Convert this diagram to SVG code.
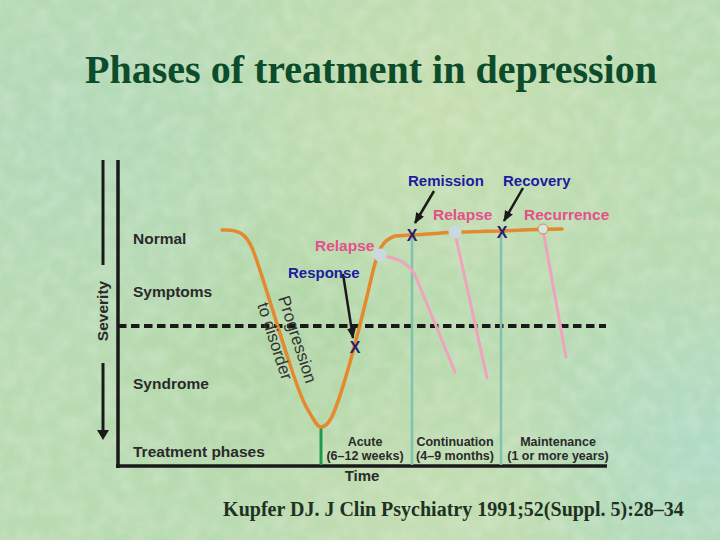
<svg xmlns="http://www.w3.org/2000/svg" width="720" height="540" viewBox="0 0 720 540">
<defs>
<radialGradient id="g1" cx="450" cy="110" r="240" gradientUnits="userSpaceOnUse"><stop offset="0" stop-color="#cfe0ae" stop-opacity="0.6"/><stop offset="1" stop-color="#cfe0ae" stop-opacity="0"/></radialGradient>
<radialGradient id="g2" cx="60" cy="140" r="240" gradientUnits="userSpaceOnUse"><stop offset="0" stop-color="#aed8c0" stop-opacity="0.55"/><stop offset="1" stop-color="#aed8c0" stop-opacity="0"/></radialGradient>
<radialGradient id="g3" cx="710" cy="450" r="200" gradientUnits="userSpaceOnUse"><stop offset="0" stop-color="#a8dad2" stop-opacity="0.6"/><stop offset="1" stop-color="#a8dad2" stop-opacity="0"/></radialGradient>
<radialGradient id="g4" cx="300" cy="360" r="200" gradientUnits="userSpaceOnUse"><stop offset="0" stop-color="#acd39e" stop-opacity="0.55"/><stop offset="1" stop-color="#acd39e" stop-opacity="0"/></radialGradient>
<radialGradient id="g5" cx="420" cy="520" r="200" gradientUnits="userSpaceOnUse"><stop offset="0" stop-color="#cde0b4" stop-opacity="0.6"/><stop offset="1" stop-color="#cde0b4" stop-opacity="0"/></radialGradient>
<filter id="tex" x="0" y="0" width="100%" height="100%">
<feTurbulence type="fractalNoise" baseFrequency="0.06" numOctaves="2" seed="3" result="n"/>
<feColorMatrix in="n" type="matrix" values="0 0 0 0 1  0 0 0 0 1  0 0 0 0 1  0 0 0 -1.6 1.05" result="a"/>
</filter>
<marker id="ah" markerWidth="12" markerHeight="10" refX="10" refY="4.5" orient="auto" markerUnits="userSpaceOnUse"><path d="M0,0 L11,4.5 L0,9 z" fill="#1a1a1a"/></marker>
<style>
.lab{font-family:"Liberation Sans",Arial,sans-serif;font-weight:bold;font-size:15.5px;fill:#2a2a2a}
.blue{font-family:"Liberation Sans",Arial,sans-serif;font-weight:bold;font-size:15px;fill:#1c1ca0}
.pink{font-family:"Liberation Sans",Arial,sans-serif;font-weight:bold;font-size:15.5px;fill:#e4508c}
.ph{font-family:"Liberation Sans",Arial,sans-serif;font-weight:bold;font-size:12.5px;fill:#2a2a2a;text-anchor:middle}
.x{font-family:"Liberation Sans",Arial,sans-serif;font-weight:bold;font-size:16px;fill:#2b1d6a;text-anchor:middle}
.prog{font-family:"Liberation Sans",Arial,sans-serif;font-size:17px;fill:#333}
.axis{stroke:#1a1a1a;stroke-width:3.5;fill:none}
.arr{stroke:#1a1a1a;stroke-width:2.5;fill:none;marker-end:url(#ah)}
.pinkl{stroke:#f0a3bd;stroke-width:3;fill:none;stroke-linecap:round}
.teal{stroke:#80c2ae;stroke-width:2.5;fill:none}
</style>
</defs>
<g id="background">
<rect width="720" height="540" fill="#b9dbb2"/>
<rect width="720" height="540" fill="url(#g4)"/>
<rect width="720" height="540" fill="url(#g1)"/>
<rect width="720" height="540" fill="url(#g2)"/>
<rect width="720" height="540" fill="url(#g3)"/>
<rect width="720" height="540" fill="url(#g5)"/>
<rect width="720" height="540" fill="#ffffff" filter="url(#tex)" opacity="0.22"/>
</g>
<g id="title"><text x="371" y="83" text-anchor="middle" font-family="Liberation Serif,'Times New Roman',serif" font-weight="bold" font-size="40" fill="#0c4c2a">Phases of treatment in depression</text></g>
<g id="axes">
<line class="axis" x1="118" y1="160" x2="118" y2="468"/>
<line class="axis" x1="116" y1="466" x2="607" y2="466"/>
<line x1="118" y1="326" x2="606" y2="326" stroke="#1a1a1a" stroke-width="4" stroke-dasharray="8.5,4.5"/>
</g>
<g id="severity">
<line x1="103" y1="160" x2="103" y2="265" stroke="#1a1a1a" stroke-width="3"/>
<line x1="103" y1="363" x2="103" y2="432" stroke="#1a1a1a" stroke-width="3"/>
<path d="M97,430 L109,430 L103,440 z" fill="#1a1a1a"/>
<text transform="translate(108,311) rotate(-90)" text-anchor="middle" font-family="Liberation Sans,Arial,sans-serif" font-weight="bold" font-size="15.5" fill="#2a2a2a">Severity</text>
</g>
<g id="levels">
<text class="lab" x="133" y="244">Normal</text>
<text class="lab" x="133" y="297">Symptoms</text>
<text class="lab" x="133" y="389">Syndrome</text>
<text class="lab" x="133" y="457">Treatment phases</text>
</g>
<g id="connectors">
<line class="teal" x1="412" y1="236" x2="412" y2="465"/>
<line class="teal" x1="501" y1="233" x2="501" y2="465"/>
<line x1="321" y1="427" x2="321" y2="465" stroke="#1e9a4c" stroke-width="3"/>
<path class="pinkl" d="M383,256 C398,258 408,263 415,275 L455,372"/>
<line class="pinkl" x1="455" y1="233" x2="487" y2="378"/>
<line class="pinkl" x1="543" y1="230" x2="566" y2="357"/>
<path d="M222,230 C238,229 246,233 253,250 C268,290 295,390 308,410 C314,420 317,427 321,427 C326,427 330,422 334,412 C346,382 362,318 372,275 C378,250 382,240 395,236 L412,235 C430,234 440,233 455,232 C470,232 490,231 502,231 C520,230 535,229 562,229" fill="none" stroke="#e48a2e" stroke-width="3.5" stroke-linecap="round"/>
<line class="arr" x1="434" y1="191" x2="415" y2="223"/>
<line class="arr" x1="523" y1="188" x2="504" y2="221"/>
<line class="arr" x1="343" y1="274" x2="353" y2="338"/>
</g>
<g id="points">
<circle cx="380" cy="255" r="6.5" fill="#c9d9e0"/>
<circle cx="455" cy="232" r="6.5" fill="#c9d9e0"/>
<circle cx="543" cy="229" r="5" fill="#d2e6ea" stroke="#e48a2e" stroke-width="1"/>
<text class="x" x="412" y="241">X</text>
<text class="x" x="502" y="238">X</text>
<text class="x" x="355" y="353">X</text>
</g>
<g id="labels">
<text class="blue" x="408" y="186">Remission</text>
<text class="blue" x="503" y="186">Recovery</text>
<text class="pink" x="433" y="220">Relapse</text>
<text class="pink" x="524" y="220">Recurrence</text>
<text class="pink" x="315" y="251">Relapse</text>
<text class="blue" x="288" y="278">Response</text>
<text class="prog" transform="translate(278,298) rotate(72)"><tspan x="0" y="0">Progression</tspan><tspan x="0" y="22">to disorder</tspan></text>
</g>
<g id="phases">
<text class="ph" x="365" y="446">Acute</text>
<text class="ph" x="365" y="460">(6–12 weeks)</text>
<text class="ph" x="455" y="446">Continuation</text>
<text class="ph" x="455" y="460">(4–9 months)</text>
<text class="ph" x="558" y="446">Maintenance</text>
<text class="ph" x="558" y="460">(1 or more years)</text>
<text x="362" y="481" text-anchor="middle" font-family="Liberation Sans,Arial,sans-serif" font-weight="bold" font-size="15" fill="#2a2a2a">Time</text>
</g>
<g id="citation"><text x="453.5" y="516" text-anchor="middle" font-family="Liberation Serif,'Times New Roman',serif" font-weight="bold" font-size="20" fill="#1e321f">Kupfer DJ. J Clin Psychiatry 1991;52(Suppl. 5):28–34</text></g>
</svg>
